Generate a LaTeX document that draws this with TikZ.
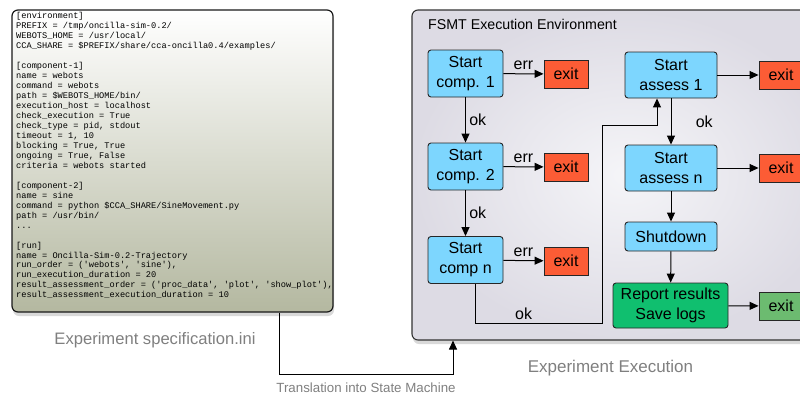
\documentclass[tikz,border=0pt]{standalone}
\usepackage{fontspec}
\setmainfont{Liberation Sans}
\setmonofont{Liberation Mono}
\usetikzlibrary{arrows.meta, positioning, calc, shadows}

\definecolor{compblue}{HTML}{7DD6FE}
\definecolor{exitred}{HTML}{FC5C35}
\definecolor{reportgreen}{HTML}{10BF6F}
\definecolor{exitgreen}{HTML}{6CBB70}
\definecolor{specbot}{HTML}{B4B8A0}
\definecolor{envin}{HTML}{F5F5F8}
\definecolor{envout}{HTML}{DDDBE4}
\definecolor{capgray}{HTML}{7F7F7F}

\tikzset{
  box/.style={draw=black!85, line width=0.9pt, rounded corners=3pt, align=center,
    inner sep=0pt, font=\fontsize{16}{20}\selectfont},
  comp/.style={box, fill=compblue, minimum width=75pt, minimum height=47pt},
  assess/.style={box, fill=compblue, minimum width=92pt, minimum height=46pt},
  exitbox/.style={draw=black!85, line width=0.9pt, fill=exitred, minimum width=44pt,
    minimum height=28pt, inner sep=0pt, font=\fontsize{16}{20}\selectfont},
  flow/.style={draw, line width=1pt, -{Triangle[length=9pt, width=8pt]}},
  lbl/.style={font=\fontsize{16}{20}\selectfont},
  caption/.style={text=capgray}
}

\begin{document}
\begin{tikzpicture}[x=1pt, y=-1pt]
\useasboundingbox (0,0) rectangle (800,394);

% Specification file
\node[draw=black!90, line width=1.2pt, rounded corners=6pt, top color=white, bottom color=specbot,
  minimum width=321pt, minimum height=302pt, inner sep=0pt,
  drop shadow={shadow xshift=1pt, shadow yshift=-4pt, opacity=0.3}] (spec) at (172.5,161) {};
\node[anchor=north west, inner sep=0pt, align=left, font=\ttfamily\fontsize{8.65}{9.96}\selectfont]
  (specText) at (16,12.5) {%
{[}environment{]}\\
PREFIX = /tmp/oncilla-sim-0.2/\\
WEBOTS\_HOME = /usr/local/\\
CCA\_SHARE = \$PREFIX/share/cca-oncilla0.4/examples/\\
\mbox{}\\
{[}component-1{]}\\
name = webots\\
command = webots\\
path = \$WEBOTS\_HOME/bin/\\
execution\_host = localhost\\
check\_execution = True\\
check\_type = pid, stdout\\
timeout = 1, 10\\
blocking = True, True\\
ongoing = True, False\\
criteria = webots started\\
\mbox{}\\
{[}component-2{]}\\
name = sine\\
command = python \$CCA\_SHARE/SineMovement.py\\
path = /usr/bin/\\
...\\
\mbox{}\\
{[}run{]}\\
name = Oncilla-Sim-0.2-Trajectory\\
run\_order = ('webots', 'sine'),\\
run\_execution\_duration = 20\\
result\_assessment\_order = ('proc\_data', 'plot', 'show\_plot'),\\
result\_assessment\_execution\_duration = 10};
\node[caption, font=\fontsize{16.6}{20}\selectfont] (specCap) at (155,340) {Experiment specification.ini};

% Execution environment
\node[draw=black!80, line width=1.1pt, rounded corners=6pt, inner color=envin, outer color=envout,
  minimum width=428pt, minimum height=330pt, inner sep=0pt,
  drop shadow={shadow xshift=1pt, shadow yshift=-4pt, opacity=0.3}] (env) at (626,175) {};
\node[anchor=west, inner sep=0pt, font=\fontsize{14.2}{17}\selectfont] (envTitle) at (428,24) {FSMT Execution Environment};
\node[caption, font=\fontsize{17}{20}\selectfont] (execCap) at (610.5,368) {Experiment Execution};

% Components
\node[comp] (comp1) at (465.5,73.5) {Start\\comp. 1};
\node[comp] (comp2) at (465.5,166.5) {Start\\comp. 2};
\node[comp] (compN) at (465.5,260) {Start\\comp n};
\node[exitbox] (exit1) at (566,74) {exit};
\node[exitbox] (exit2) at (566,167) {exit};
\node[exitbox] (exit3) at (566,261) {exit};

% Assessment
\node[assess] (assess1) at (671,75) {Start\\assess 1};
\node[assess] (assessN) at (671,168) {Start\\assess n};
\node[box, fill=compblue, minimum width=92pt, minimum height=29pt] (shutdown) at (671,236.5) {Shutdown};
\node[box, fill=reportgreen, minimum width=115pt, minimum height=45pt] (report) at (670.5,305.5) {Report results\\Save logs};
\node[exitbox] (exit4) at (781,75) {exit};
\node[exitbox] (exit5) at (781,168) {exit};
\node[exitbox, fill=exitgreen] (exitG) at (781,306) {exit};

\coordinate (okCorner) at (602,323);
\coordinate (okTop) at (602,125);
\coordinate (transL) at (279,374);
\coordinate (transR) at (453,374);

\draw[flow] (comp1) -- (exit1) node[midway, above, lbl] {err};
\draw[flow] (comp2) -- (exit2) node[midway, above, lbl] {err};
\draw[flow] (compN) -- (exit3) node[midway, above, lbl] {err};
\draw[flow] (comp1) -- (comp2) node[midway, right, lbl] {ok};
\draw[flow] (comp2) -- (compN) node[midway, right, lbl] {ok};
\draw[flow] ([xshift=10pt]compN.south) |- (okCorner) node[pos=0.69, above, lbl] {ok}
  -- (okTop) -| ([xshift=-14pt]assess1.south);

\draw[flow] (assess1) -- (exit4);
\draw[flow] (assessN) -- (exit5);
\draw[flow] (assess1) -- (assessN) node[midway, right, xshift=21pt, lbl] {ok};
\draw[flow] (assessN) -- (shutdown);
\draw[flow] (shutdown) -- (report);
\draw[flow] (report) -- (exitG);

% Translation
\draw[flow] (spec.south -| transL) -- (transL) -- (transR)
  node[midway, below=5pt, caption, font=\fontsize{13.3}{16}\selectfont] {Translation into State Machine}
  -- (env.south -| transR);
\end{tikzpicture}
\end{document}
